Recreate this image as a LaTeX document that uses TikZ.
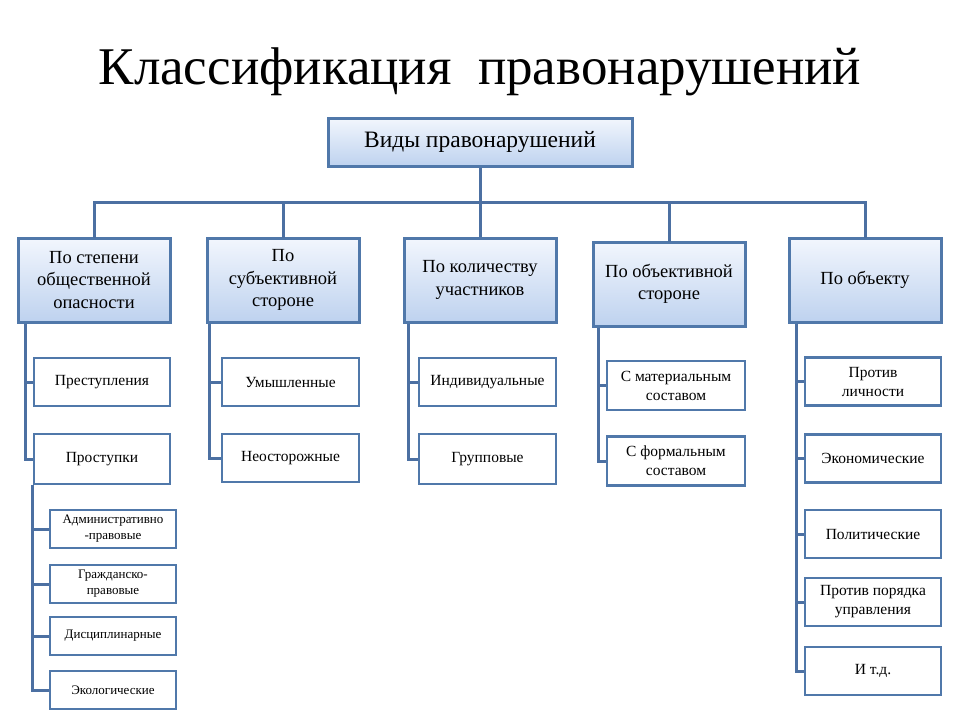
\documentclass[tikz,border=0pt]{standalone}
\usepackage{fontspec}
\setmainfont{Liberation Serif}
\usetikzlibrary{shadows}
\definecolor{boxline}{RGB}{80,120,170}
\definecolor{linkline}{RGB}{76,112,162}
\definecolor{fillhi}{RGB}{242,246,253}
\definecolor{filllo}{RGB}{190,210,239}
\tikzset{
	kind/.style={draw=boxline,line width=3pt,top color=fillhi,bottom color=filllo,align=center,inner sep=2pt,
		drop shadow={shadow xshift=2pt,shadow yshift=-2pt,opacity=.25}},
	headbox/.style={kind,minimum width=304pt,minimum height=48pt,font=\fontsize{23.5}{26}\selectfont},
	groupbox/.style={kind,minimum width=152pt,minimum height=84pt,font=\fontsize{18.5}{22.5}\selectfont},
	itembox/.style={draw=boxline,line width=2.8pt,fill=white,align=center,inner sep=2pt,
		minimum height=48pt,font=\fontsize{15.5}{19}\selectfont},
	subbox/.style={itembox,minimum width=126pt,minimum height=38pt,font=\fontsize{13}{16}\selectfont},
	link/.style={draw=linkline,line width=3pt}
}
\begin{document}
\begin{tikzpicture}[x=1pt,y=-1pt]
	\useasboundingbox[fill=white] (0,0) rectangle (960,720);
	\node[font=\fontsize{53}{58}\selectfont] (title) at (480,72) {Классификация\ \ правонарушений};
	\node[headbox] (top) at (480,142) {Виды правонарушений};
	\node[groupbox] (b1) at (94,280) {По степени\\общественной\\опасности};
	\node[groupbox] (b2) at (283,280) {По\\субъективной\\стороне};
	\node[groupbox] (b3) at (480,280) {По количеству\\участников};
	\node[groupbox] (b4) at (669,284) {По объективной\\стороне};
	\node[groupbox] (b5) at (865,280) {По объекту};
	\coordinate (bus) at (480,202);
	\draw[link] (top.south) -- (bus);
	\foreach \b in {b1,b2,b4,b5}
		\draw[link,line cap=rect] (bus) -| (\b.north);
	\draw[link] (bus) -- (b3.north);
	% first column
	\node[itembox,minimum width=136pt] (c11) at (102,382) {Преступления};
	\node[itembox,minimum width=136pt,minimum height=50pt] (c12) at (102,459) {Проступки};
	\node[subbox] (d1) at (113,529) {Административно\\-правовые};
	\node[subbox] (d2) at (113,584) {Гражданско-\\правовые};
	\node[subbox] (d3) at (113,636) {Дисциплинарные};
	\node[subbox] (d4) at (113,690) {Экологические};
	% second column
	\node[itembox,minimum width=137pt] (c21) at (290.5,382) {Умышленные};
	\node[itembox,minimum width=137pt] (c22) at (290.5,458) {Неосторожные};
	% third column
	\node[itembox,minimum width=137pt] (c31) at (487.5,382) {Индивидуальные};
	\node[itembox,minimum width=137pt,minimum height=50pt] (c32) at (487.5,459) {Групповые};
	% fourth column
	\node[itembox,minimum width=138pt,minimum height=49pt] (c41) at (676,385.5) {С материальным\\составом};
	\node[itembox,minimum width=138pt,minimum height=49pt] (c42) at (676,461) {С формальным\\составом};
	% fifth column
	\node[itembox,minimum width=136pt] (c51) at (873,381.5) {Против\\личности};
	\node[itembox,minimum width=136pt] (c52) at (873,458.5) {Экономические};
	\node[itembox,minimum width=136pt] (c53) at (873,534) {Политические};
	\node[itembox,minimum width=136pt] (c54) at (873,602) {Против порядка\\управления};
	\node[itembox,minimum width=136pt] (c55) at (873,671) {И т.д.};
	% stems
	\coordinate (s1) at ([xshift=9pt]b1.south west);
	\coordinate (s2) at ([xshift=4pt]b2.south west);
	\coordinate (s3) at ([xshift=6pt]b3.south west);
	\coordinate (s4) at ([xshift=7pt]b4.south west);
	\coordinate (s5) at ([xshift=9pt]b5.south west);
	\coordinate (s6) at ([xshift=0pt]c12.south west);
	\draw[link] (s1) |- (c11.west); \draw[link] (s1) |- (c12.west);
	\draw[link] (s2) |- (c21.west); \draw[link] (s2) |- (c22.west);
	\draw[link] (s3) |- (c31.west); \draw[link] (s3) |- (c32.west);
	\draw[link] (s4) |- (c41.west); \draw[link] (s4) |- (c42.west);
	\foreach \c in {c51,c52,c53,c54,c55}
		\draw[link] (s5) |- (\c.west);
	\foreach \d in {d1,d2,d3,d4}
		\draw[link] (s6) |- (\d.west);
\end{tikzpicture}
\end{document}
